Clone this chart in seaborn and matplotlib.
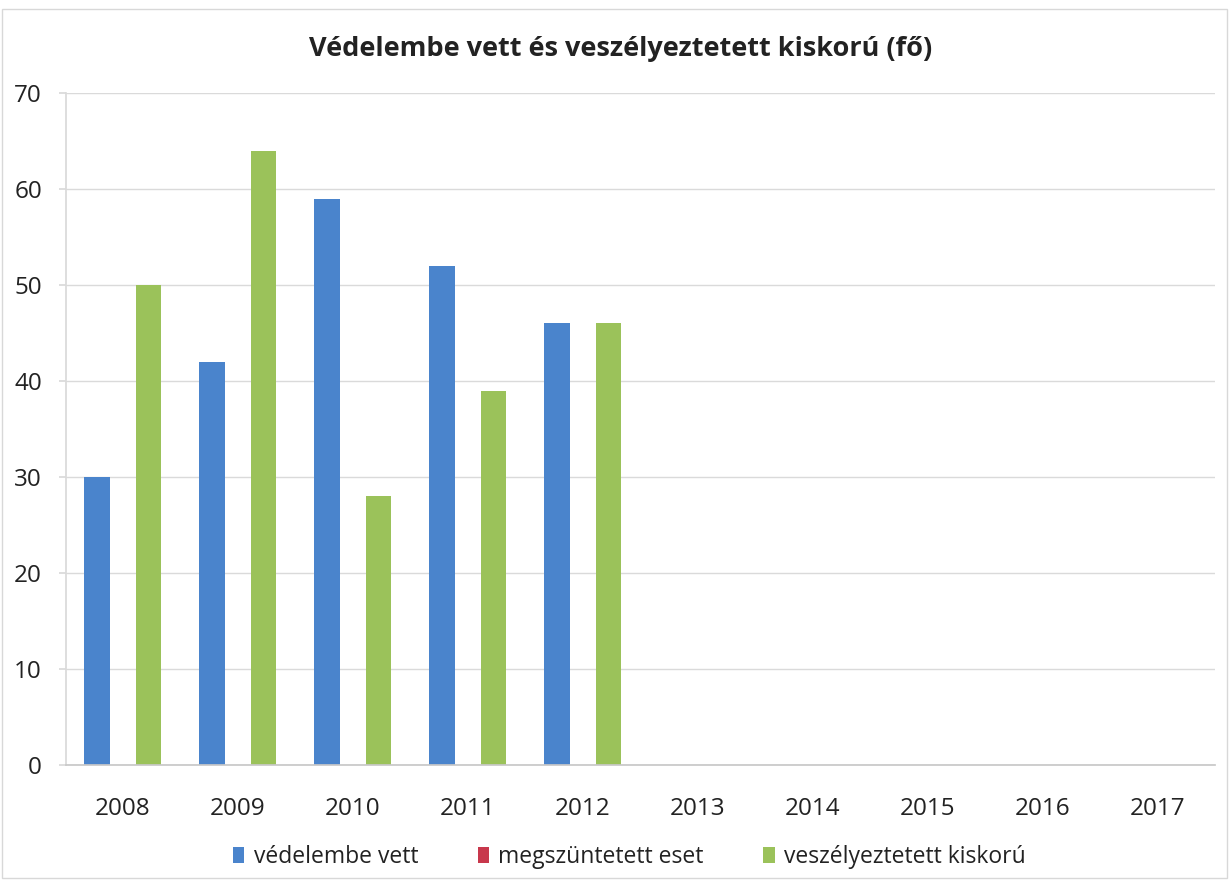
import matplotlib
matplotlib.use("Agg")
import matplotlib.pyplot as plt
import seaborn as sns
import pandas as pd
from matplotlib.patches import Rectangle

years = ["2008", "2009", "2010", "2011", "2012", "2013", "2014", "2015", "2016", "2017"]
vedelembe_vett = [30, 42, 59, 52, 46, 0, 0, 0, 0, 0]
megszuntetett_eset = [0, 0, 0, 0, 0, 0, 0, 0, 0, 0]
veszelyeztetett_kiskoru = [50, 64, 28, 39, 46, 0, 0, 0, 0, 0]
series_names = ["védelembe vett", "megszüntetett eset", "veszélyeztetett kiskorú"]
colors = ["#4A84CC", "#C8384C", "#9BC25A"]

rows = []
for name, vals in zip(series_names, [vedelembe_vett, megszuntetett_eset, veszelyeztetett_kiskoru]):
    for y, v in zip(years, vals):
        rows.append({"év": y, "sorozat": name, "érték": v})
df = pd.DataFrame(rows)

sns.set_theme(style="white")
plt.rcParams['font.family'] = ['Open Sans', 'DejaVu Sans']

fig = plt.figure(figsize=(12.29, 8.8), dpi=100)
ax = fig.add_axes([0.0533, 0.1307, 0.9353, 0.7636])

sns.barplot(data=df, x="év", y="érték", hue="sorozat", order=years,
            hue_order=series_names, palette=colors, width=0.67,
            saturation=1, ax=ax, legend=True, edgecolor="none", linewidth=0)

ax.set_ylim(0, 70)
ax.set_xlim(-0.5, len(years) - 0.5)
ax.set_yticks(range(0, 71, 10))
ax.yaxis.grid(True, color="#DADADA", linewidth=1)
ax.set_axisbelow(True)
ax.set_xlabel("")
ax.set_ylabel("")
for s in ["top", "right"]:
    ax.spines[s].set_visible(False)
ax.spines["left"].set_color("#DADADA")
ax.spines["bottom"].set_color("#C8C8C8")
ax.tick_params(axis="y", left=True, length=5, color="#DADADA", labelsize=17.5, pad=12, labelcolor="#222222")
ax.tick_params(axis="x", bottom=False, labelsize=17.5, pad=17, labelcolor="#222222")

fig.text(0.505, 0.944, "Védelembe vett és veszélyeztetett kiskorú (fő)", ha="center", va="center",
         fontsize=19.5, fontweight="bold", color="#222222")

handles, labels = ax.get_legend_handles_labels()
ax.legend_.remove()
fig.legend(handles, labels, loc="center", bbox_to_anchor=(0.512, 0.026), ncol=3, frameon=False,
           fontsize=16.5, handlelength=0.5, handleheight=0.7, handletextpad=0.4, columnspacing=2.6,
           labelcolor="#222222")

fig.patches.append(Rectangle((0.002, 0.002), 0.996, 0.988, transform=fig.transFigure,
                             fill=False, edgecolor="#D8D8D8", linewidth=1))

fig.savefig("out.png", dpi=100)
